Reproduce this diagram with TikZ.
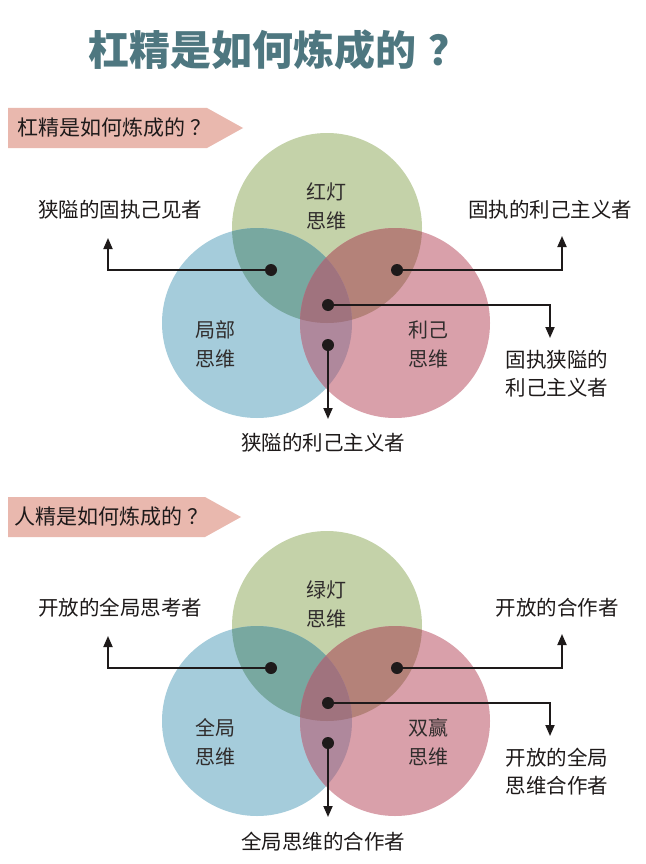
\documentclass[tikz,border=0pt]{standalone}
\usepackage{fontspec}
\newfontfamily\cjk{Noto Sans CJK SC}
\usetikzlibrary{arrows.meta}
\definecolor{cG}{HTML}{C4D2A9}
\definecolor{cB}{HTML}{A5CCDB}
\definecolor{cP}{HTML}{D9A0AA}
\definecolor{cGB}{HTML}{78A8A0}
\definecolor{cGP}{HTML}{B48279}
\definecolor{cBP}{HTML}{AF889C}
\definecolor{cGBP}{HTML}{A0737E}
\definecolor{ttl}{HTML}{4E7780}
\definecolor{ban}{HTML}{E9B8AE}
\definecolor{ink}{HTML}{1E1A1A}
\tikzset{
  lab/.style={font=\cjk\fontsize{20.5}{24}\selectfont, text=ink, inner sep=0pt, align=center},
  clab/.style={font=\cjk\fontsize{20}{29}\selectfont, text=ink!92, inner sep=0pt, align=center},
  banlab/.style={font=\cjk\fontsize{21}{24}\selectfont, text=ink, inner sep=0pt, anchor=west},
  dot/.style={circle, fill=ink, inner sep=0pt, minimum size=12pt},
  conn/.style={draw=ink, line width=1.8pt, -{Triangle[width=9pt,length=11pt]}},
  bannershape/.style={fill=ban}
}
\begin{document}
\begin{tikzpicture}[x=1pt,y=-1pt]
\useasboundingbox (0,0) rectangle (645,864);
\fill[white] (0,0) rectangle (645,864);
% title
\node[font=\cjk\bfseries\fontsize{41}{48}\selectfont, text=ttl, anchor=west, inner sep=0pt] (title) at (88,50) {杠精是如何炼成的\hspace{12pt}？};

% ================= top diagram =================
\coordinate (g1) at (327,228);
\coordinate (b1) at (257,323);
\coordinate (p1) at (395,323);
\fill[bannershape] (8,108) -- (207,108) -- (243,128) -- (207,148) -- (8,148) -- cycle;
\node[banlab] (ban1) at (17,128) {杠精是如何炼成的\hspace{5pt}？};
\fill[cG] (g1) circle[radius=95pt];
\fill[cB] (b1) circle[radius=95pt];
\fill[cP] (p1) circle[radius=95pt];
\begin{scope}\clip (g1) circle[radius=95pt]; \fill[cGB] (b1) circle[radius=95pt]; \end{scope}
\begin{scope}\clip (g1) circle[radius=95pt]; \fill[cGP] (p1) circle[radius=95pt]; \end{scope}
\begin{scope}\clip (b1) circle[radius=95pt]; \fill[cBP] (p1) circle[radius=95pt]; \end{scope}
\begin{scope}\clip (g1) circle[radius=95pt]; \clip (b1) circle[radius=95pt]; \fill[cGBP] (p1) circle[radius=95pt]; \end{scope}
\node[clab] (cg1) at (326,206) {红灯\\思维};
\node[clab] (cb1) at (215,344) {局部\\思维};
\node[clab] (cp1) at (428,344) {利己\\思维};
\node[dot] (dL1) at (271,270) {};
\node[dot] (dR1) at (397,270) {};
\node[dot] (dC1) at (328,305) {};
\node[dot] (dB1) at (328,345) {};
\node[lab] (oL1) at (120,210) {狭隘的固执己见者};
\node[lab] (oR1) at (550,210) {固执的利己主义者};
\node[lab, font=\cjk\fontsize{20.5}{28}\selectfont] (oC1) at (557,374) {固执狭隘的\\利己主义者};
\node[lab] (oB1) at (323,443) {狭隘的利己主义者};
\coordinate (tL1) at (108,238);
\coordinate (tR1) at (562,236);
\coordinate (tC1) at (550,338);
\coordinate (tB1) at (328,419);
\draw[conn] (dL1.center) -| (tL1);
\draw[conn] (dR1.center) -| (tR1);
\draw[conn] (dC1.center) -| (tC1);
\draw[conn] (dB1.center) -- (tB1);

% ================= bottom diagram =================
\coordinate (g2) at (327,626);
\coordinate (b2) at (257,721);
\coordinate (p2) at (395,721);
\fill[bannershape] (8,497) -- (205,497) -- (241,517) -- (205,537) -- (8,537) -- cycle;
\node[banlab] (ban2) at (14,517) {人精是如何炼成的\hspace{5pt}？};
\fill[cG] (g2) circle[radius=95pt];
\fill[cB] (b2) circle[radius=95pt];
\fill[cP] (p2) circle[radius=95pt];
\begin{scope}\clip (g2) circle[radius=95pt]; \fill[cGB] (b2) circle[radius=95pt]; \end{scope}
\begin{scope}\clip (g2) circle[radius=95pt]; \fill[cGP] (p2) circle[radius=95pt]; \end{scope}
\begin{scope}\clip (b2) circle[radius=95pt]; \fill[cBP] (p2) circle[radius=95pt]; \end{scope}
\begin{scope}\clip (g2) circle[radius=95pt]; \clip (b2) circle[radius=95pt]; \fill[cGBP] (p2) circle[radius=95pt]; \end{scope}
\node[clab] (cg2) at (326,604) {绿灯\\思维};
\node[clab] (cb2) at (215,742) {全局\\思维};
\node[clab] (cp2) at (428,742) {双赢\\思维};
\node[dot] (dL2) at (271,668) {};
\node[dot] (dR2) at (397,668) {};
\node[dot] (dC2) at (328,703) {};
\node[dot] (dB2) at (328,743) {};
\node[lab] (oL2) at (120,608) {开放的全局思考者};
\node[lab] (oR2) at (557,608) {开放的合作者};
\node[lab, font=\cjk\fontsize{20.5}{28}\selectfont] (oC2) at (557,772) {开放的全局\\思维合作者};
\node[lab] (oB2) at (323,842) {全局思维的合作者};
\coordinate (tL2) at (108,636);
\coordinate (tR2) at (562,634);
\coordinate (tC2) at (550,736);
\coordinate (tB2) at (328,817);
\draw[conn] (dL2.center) -| (tL2);
\draw[conn] (dR2.center) -| (tR2);
\draw[conn] (dC2.center) -| (tC2);
\draw[conn] (dB2.center) -- (tB2);
\end{tikzpicture}
\end{document}
